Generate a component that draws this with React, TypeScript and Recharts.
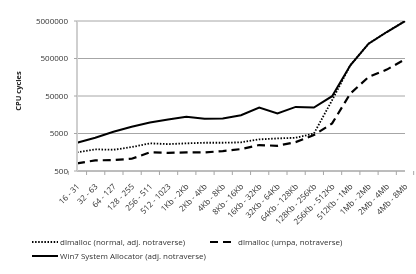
import { LineChart, Line, XAxis, YAxis, CartesianGrid, Label } from 'recharts';

const sizes = [
  '16 - 31', '32 - 63', '64 - 127', '128 - 255', '256 - 511', '512 - 1023',
  '1Kb - 2Kb', '2Kb - 4Kb', '4Kb - 8Kb', '8Kb - 16Kb', '16Kb - 32Kb',
  '32Kb - 64Kb', '64Kb - 128Kb', '128Kb - 256Kb', '256Kb - 512Kb',
  '512Kb - 1Mb', '1Mb - 2Mb', '2Mb - 4Mb', '4Mb - 8Mb',
];

const dlNormal = [
  1570, 1890, 1840, 2170, 2730, 2610, 2730, 2830, 2830, 2900, 3480, 3700,
  3840, 4990, 38700, 330000, 1240000, 2540000, 4970000,
];

const dlUmpa = [
  800, 960, 980, 1060, 1570, 1520, 1570, 1570, 1700, 1920, 2460, 2350,
  2950, 4530, 9280, 58200, 161000, 253000, 476000,
];

const win7 = [
  2830, 3840, 5550, 7540, 9870, 11860, 13900, 12300, 12600, 15400, 24700,
  17100, 25600, 24700, 49400, 329000, 1240000, 2540000, 4970000,
];

const yTicks = [500, 5000, 50000, 500000, 5000000];

const data = sizes.map((name, i) => ({
  name,
  normal: dlNormal[i],
  umpa: dlUmpa[i],
  win7: win7[i],
}));

const FONT = '"Open Sans", sans-serif';
const STEP = 329 / sizes.length;

// category labels sit at the band centre, tick marks at the band edges (excel style)
const SizeTick = (props: any) => {
  const { x, y, payload, index } = props;
  const left = x - STEP / 2;
  return (
    <g>
      <line x1={left} y1={y} x2={left} y2={y + 4} stroke='#a6a6a6' />
      {index === sizes.length - 1 && (
        <line x1={x + STEP / 2} y1={y} x2={x + STEP / 2} y2={y + 4} stroke='#a6a6a6' />
      )}
      <g transform={`translate(${x + 3},${y + 16})`}>
        <text
          textAnchor='end'
          transform='rotate(-45)'
          fontSize={8}
          fontFamily={FONT}
          fill='#333'
        >
          {payload.value}
        </text>
      </g>
    </g>
  );
};

const legendItems = [
  { label: 'dlmalloc (normal, adj. notraverse)', dash: '1.5 1.6', left: 32, top: 236 },
  { label: 'dlmalloc (umpa, notraverse)', dash: '8 5', left: 210, top: 236 },
  { label: 'Win7 System Allocator (adj. notraverse)', dash: undefined, left: 32, top: 250 },
];

function App() {
  return (
    <div
      style={{
        position: 'absolute',
        left: 0,
        top: 0,
        width: 416,
        height: 274,
        background: '#fff',
        filter: 'grayscale(1)',
      }}
    >
      <LineChart
        width={416}
        height={274}
        data={data}
        margin={{ top: 21, right: 11, left: 0, bottom: 0 }}
      >
        <CartesianGrid vertical={false} stroke='#a6a6a6' />
        <XAxis
          dataKey='name'
          interval={0}
          height={103}
          tickLine={false}
          tickSize={0}
          tickMargin={0}
          stroke='#a6a6a6'
          tick={<SizeTick />}
        />
        <YAxis
          scale='log'
          domain={[500, 5000000]}
          ticks={yTicks}
          allowDataOverflow
          width={77}
          tickSize={3}
          tickMargin={6}
          tickLine={{ stroke: '#a6a6a6' }}
          axisLine={{ stroke: '#cfcfcf', strokeWidth: 2 }}
          tick={{ fontSize: 8, fontFamily: FONT, fill: '#333' }}
        >
          <Label
            content={() => (
              <text
                x={21}
                y={91}
                transform='rotate(-90, 21, 91)'
                textAnchor='middle'
                fontSize={7.5}
                fontWeight='bold'
                fontFamily={FONT}
                fill='#222'
              >
                CPU cycles
              </text>
            )}
          />
        </YAxis>
        <Line
          dataKey='normal'
          stroke='#000'
          strokeWidth={1.8}
          strokeDasharray='1.5 1.6'
          dot={false}
          isAnimationActive={false}
        />
        <Line
          dataKey='umpa'
          stroke='#000'
          strokeWidth={2.2}
          strokeDasharray='8 5'
          dot={false}
          isAnimationActive={false}
        />
        <Line
          dataKey='win7'
          stroke='#000'
          strokeWidth={2}
          dot={false}
          isAnimationActive={false}
        />
      </LineChart>
      {legendItems.map((item) => (
        <div
          key={item.label}
          style={{
            position: 'absolute',
            left: item.left,
            top: item.top,
            display: 'flex',
            alignItems: 'center',
            fontFamily: FONT,
            fontSize: 8,
            color: '#333',
            whiteSpace: 'nowrap',
          }}
        >
          <svg width={26} height={10} style={{ marginRight: 2 }}>
            <line
              x1={0}
              y1={5}
              x2={26}
              y2={5}
              stroke='#000'
              strokeWidth={2}
              strokeDasharray={item.dash}
            />
          </svg>
          {item.label}
        </div>
      ))}
    </div>
  );
}

export default App;
